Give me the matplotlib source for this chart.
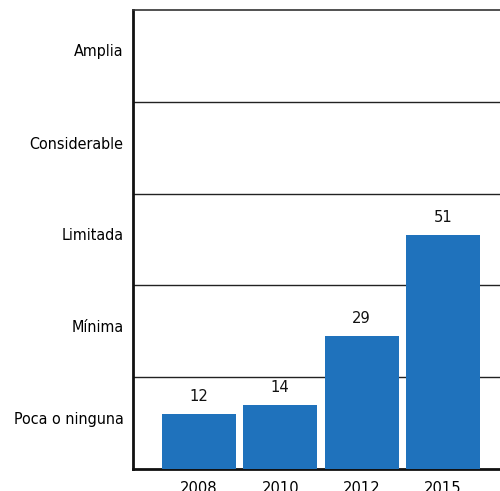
import matplotlib
matplotlib.use("Agg")
import matplotlib.pyplot as plt

years = ["2008", "2010", "2012", "2015"]
values = [12, 14, 29, 51]
levels = ["Poca o ninguna", "Mínima", "Limitada", "Considerable", "Amplia"]
level_pos = [11.1, 31.1, 51.1, 71.1, 91.3]
grid_pos = [20, 40, 60, 80]

plt.rcParams["font.family"] = ["DejaVu Sans"]
plt.rcParams["font.stretch"] = "condensed"

fig = plt.figure(figsize=(5.0, 4.91), dpi=100)
ax = fig.add_axes([0.266, 0.0448, 0.734, 0.935])
x = list(range(len(years)))
bars = ax.bar(x, values, width=0.91, color="#1f72bc", zorder=3)
for xi, v in zip(x, values):
    ax.annotate(str(v), (xi, v), xytext=(0, 7), textcoords="offset points",
                ha="center", va="bottom", fontsize=11.8, color="#111111")
for g in grid_pos:
    ax.axhline(g, color="#222222", lw=1.0, zorder=1)
ax.set_xlim(-0.81, 3.70)
ax.set_ylim(0, 100)
ax.set_xticks(x)
ax.set_xticklabels(years, fontsize=11.8)
ax.set_yticks(level_pos)
ax.set_yticklabels(levels, fontsize=11.5)
ax.tick_params(length=0, pad=7)
ax.tick_params(axis="x", pad=8.5)
for s in ["left", "bottom"]:
    ax.spines[s].set_linewidth(2.0)
    ax.spines[s].set_color("#111111")
ax.spines["top"].set_linewidth(1.2)
ax.spines["top"].set_color("#333333")
ax.spines["right"].set_visible(False)
fig.savefig("out.png", dpi=100)
